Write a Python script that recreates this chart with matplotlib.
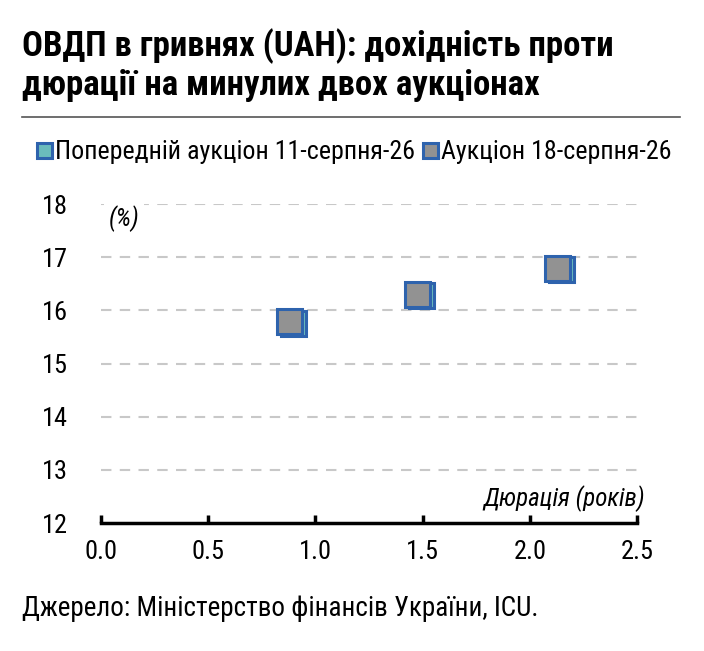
import matplotlib
matplotlib.use("Agg")
import matplotlib.pyplot as plt
from matplotlib import font_manager

names = {f.name for f in font_manager.fontManager.ttflist}
base = "DejaVu Sans"
for cand in ["Roboto Condensed", "PT Sans Narrow", "Archivo Narrow", "Open Sans Condensed"]:
    if cand in names:
        base = cand
        break
plt.rcParams['font.family'] = [base, 'DejaVu Sans']

# data
prev_x = [0.895, 1.49, 2.145]
prev_y = [15.76, 16.29, 16.78]
curr_x = [0.877, 1.474, 2.127]
curr_y = [15.80, 16.30, 16.80]
prev_label = "Попередній аукціон 11-серпня-26"
curr_label = "Аукціон 18-серпня-26"
yticks = [12, 13, 14, 15, 16, 17, 18]
xticks = [0.0, 0.5, 1.0, 1.5, 2.0, 2.5]

fig = plt.figure(figsize=(7.04, 6.51), dpi=100)
ax = fig.add_axes([0.1435, 0.1966, 0.7615, 0.49])

for y in yticks[1:]:
    ax.axhline(y, color="#c8c8c8", lw=1.5, ls=(0, (5, 4)), zorder=1)

ax.plot(prev_x, prev_y, "s", ms=18, mfc="#6bbcbc", mec="#2e63ad", mew=2.2,
        ls="none", label=prev_label, zorder=3)
ax.plot(curr_x, curr_y, "s", ms=18, mfc="#929292", mec="#2e63ad", mew=2.2,
        ls="none", label=curr_label, zorder=4)

ax.set_xlim(0, 2.5)
ax.set_ylim(12, 18)
ax.set_xticks(xticks)
ax.set_xticklabels([f"{t:.1f}" for t in xticks])
ax.set_yticks(yticks)
for s in ["top", "right", "left"]:
    ax.spines[s].set_visible(False)
ax.spines["bottom"].set_linewidth(2.5)
ax.tick_params(axis="x", direction="in", length=6, width=2.5, labelsize=19, pad=12)
ax.tick_params(axis="y", length=0, labelsize=19, pad=24)

ax.text(0.035, 17.97, "(%)", style="italic", fontsize=18, ha="left", va="top",
        bbox=dict(fc="white", ec="none", pad=3), zorder=2)
ax.text(2.535, 12.2, "Дюрація (років)", style="italic", fontsize=18,
        ha="right", va="bottom")

fig.text(0.031, 0.957, "ОВДП в гривнях (UAH): дохідність проти\nдюрації на минулих двох аукціонах",
         fontsize=25, fontweight="bold", ha="left", va="top", linespacing=1.22)
fig.add_artist(plt.Line2D([0.031, 0.966], [0.82, 0.82], color="#555555", lw=1.2))

leg = fig.legend(loc="upper left", bbox_to_anchor=(0.052, 0.785), ncol=2, frameon=False,
                 fontsize=18.7, handlelength=0.6, handletextpad=0.1, columnspacing=0.3,
                 markerscale=0.6, borderaxespad=0, borderpad=0)

fig.text(0.031, 0.045, "Джерело: Міністерство фінансів України, ICU.", fontsize=19.5,
         ha="left", va="bottom")

fig.savefig("out.png", dpi=100)
